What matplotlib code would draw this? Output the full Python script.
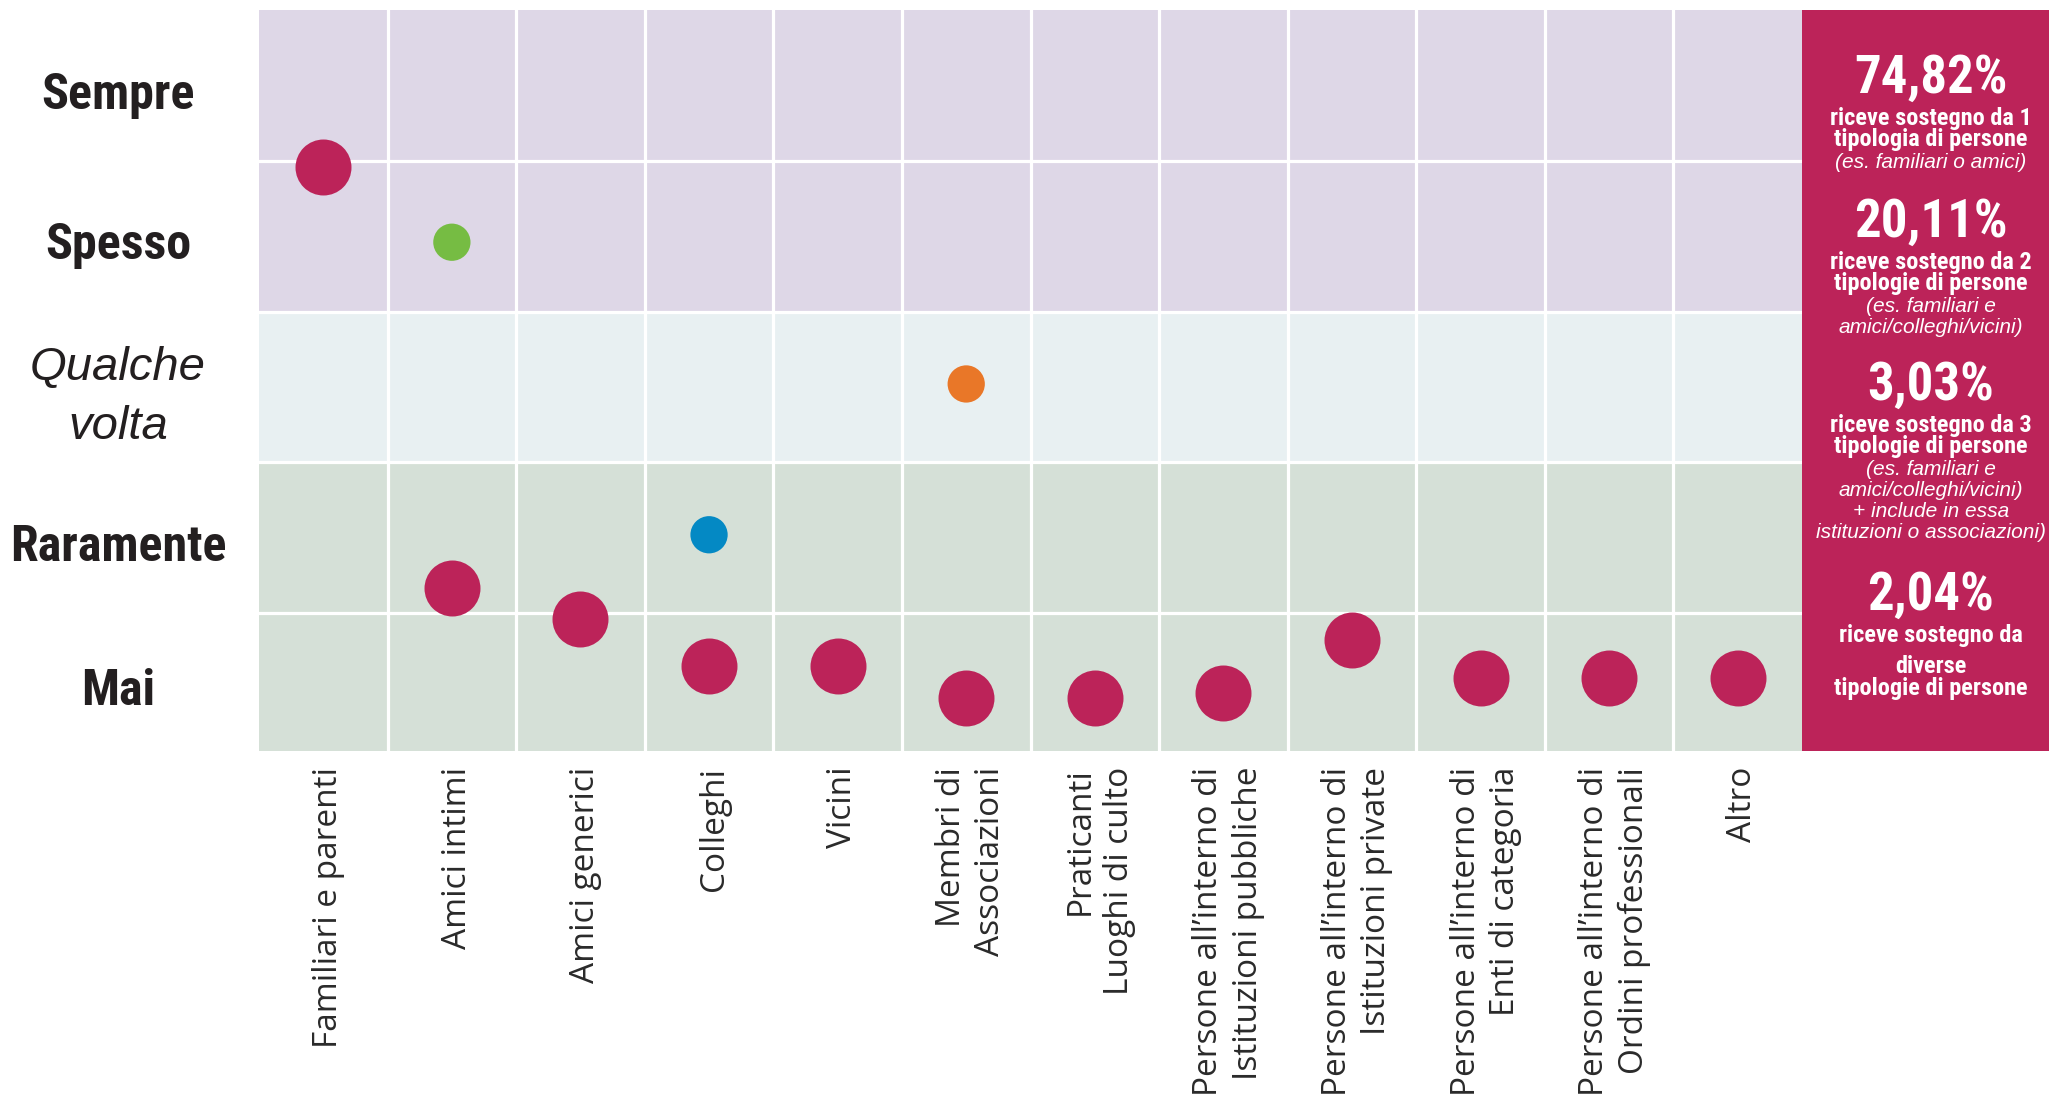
import matplotlib
matplotlib.use('Agg')
import matplotlib.pyplot as plt
import matplotlib.transforms as mtrans
from matplotlib import font_manager
from matplotlib.patches import Rectangle

# categories (x) and frequency rows (y, bottom to top)
categories = ['Familiari e parenti', 'Amici intimi', 'Amici generici', 'Colleghi', 'Vicini',
              'Membri di\nAssociazioni', 'Praticanti\nLuoghi di culto',
              'Persone all’interno di\nIstituzioni pubbliche',
              'Persone all’interno di\nIstituzioni private',
              'Persone all’interno di\nEnti di categoria',
              'Persone all’interno di\nOrdini professionali', 'Altro']
freq_labels = ['Mai', 'Raramente', 'Qualche\nvolta', 'Spesso', 'Sempre']

# position of the big dots, in row units (Mai = 0-1 ... Sempre = 4-5)
main_vals = [3.96, 1.17, 0.96, 0.65, 0.65, 0.44, 0.44, 0.47, 0.82, 0.57, 0.57, 0.57]

# small coloured dots
extra_idx = [1, 3, 5]
extra_vals = [3.46, 1.52, 2.52]
extra_colors = ['#76bc43', '#0489c4', '#e97728']

# side panel text
pct = ['74,82%', '20,11%', '3,03%', '2,04%']
bold_lines = [['riceve sostegno da 1', 'tipologia di persone'],
              ['riceve sostegno da 2', 'tipologie di persone'],
              ['riceve sostegno da 3', 'tipologie di persone'],
              ['riceve sostegno da', 'diverse', 'tipologie di persone']]
ital_lines = [['(es. familiari o amici)'],
              ['(es. familiari e', 'amici/colleghi/vicini)'],
              ['(es. familiari e', 'amici/colleghi/vicini)', '+ include in essa',
               'istituzioni o associazioni)'],
              []]

RED = '#bc2359'
W, H = 2049, 1111

names = {f.name for f in font_manager.fontManager.ttflist}
def pick(*cands):
    for c in cands:
        if c in names:
            return c
    return 'DejaVu Sans'

COND = pick('Liberation Sans Narrow', 'Roboto Condensed', 'DejaVu Sans')
SANS = pick('Liberation Sans', 'DejaVu Sans')
HAND = pick('Open Sans', 'Lato', 'DejaVu Sans')

def fx(px):
    return px / W

def fy(py):
    return 1 - py / H

fig = plt.figure(figsize=(W / 100, H / 100), dpi=100)
ax = fig.add_axes([fx(259), fy(751), fx(1802) - fx(259), fy(10) - fy(751)])

ax.axhspan(0, 2, color='#d5e0d7', lw=0)
ax.axhspan(2, 3, color='#e8f0f2', lw=0)
ax.axhspan(3, 5, color='#ded7e7', lw=0)
for i in range(1, len(categories)):
    ax.axvline(i, color='white', lw=2.3, zorder=1)
for j in range(1, 5):
    ax.axhline(j, color='white', lw=2.3, zorder=1)

xs = [i + 0.5 for i in range(len(categories))]
ax.scatter(xs, main_vals, s=1625, color=RED, lw=0, zorder=3)
ax.scatter([extra_idx[k] + 0.5 for k in range(3)], extra_vals, s=720,
           color=extra_colors, lw=0, zorder=3)

ax.set_xlim(0, len(categories))
ax.set_ylim(0.086, 5)
ax.set_xticks([])
ax.set_yticks([])
for s in ax.spines.values():
    s.set_visible(False)

# category labels
lab_tr = mtrans.blended_transform_factory(ax.transData, fig.transFigure)
for x, lab in zip(xs, categories):
    ax.text(x + 0.04, fy(767), lab, transform=lab_tr,
            rotation=90, ha='center', va='top', multialignment='right',
            fontsize=24, family=HAND, color='#2a2a2a', linespacing=1.25)

# row labels
row_base = [705, 561, None, 259, 109]
for j, lab in enumerate(freq_labels):
    if j == 2:
        fig.text(fx(118), fy(380), 'Qualche', ha='center', va='baseline', fontsize=34,
                 family=SANS, style='italic', color='#231f20')
        fig.text(fx(118), fy(439), 'volta', ha='center', va='baseline', fontsize=34,
                 family=SANS, style='italic', color='#231f20')
    else:
        fig.text(fx(118), fy(row_base[j]), lab, ha='center', va='baseline', fontsize=36,
                 family=COND, weight='bold', color='#231f20')

# side panel
fig.add_artist(Rectangle((fx(1802), fy(751)), 1 - fx(1802), fy(10) - fy(751),
                         transform=fig.transFigure, color=RED, lw=0))
cx = fx(1931)
pct_base = [93, 237, 400, 610]
step = 21.3
for b in range(4):
    fig.text(cx, fy(pct_base[b]), pct[b], ha='center', va='baseline', fontsize=38,
             family=COND, weight='bold', color='white')
    y = pct_base[b] + 32
    for k, line in enumerate(bold_lines[b]):
        fig.text(cx, fy(y), line, ha='center', va='baseline', fontsize=17.5,
                 family=COND, weight='bold', color='white')
        y += step + (10 if (b == 3 and k == 0) else 0)
    for line in ital_lines[b]:
        fig.text(cx, fy(y), line, ha='center', va='baseline', fontsize=15,
                 family=SANS, style='italic', color='white')
        y += step

plt.savefig('out.png', dpi=100)
plt.close()
